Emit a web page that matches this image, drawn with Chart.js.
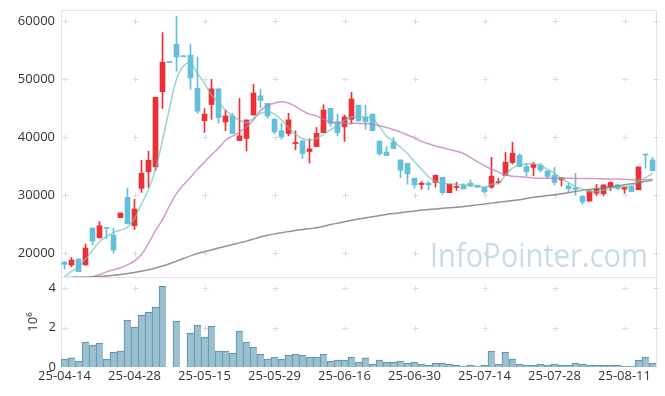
<!DOCTYPE html>
<html lang="ko">
<head>
<meta charset="UTF-8">
<title>InfoPointer chart</title>
<script src="https://cdn.jsdelivr.net/npm/chart.js@4.4.1/dist/chart.umd.min.js"></script>
<style>
  html, body { margin: 0; padding: 0; background: #fff; }
  #wrap { position: relative; width: 665px; height: 396px; overflow: hidden; }
  #price { position: absolute; left: 0; top: 0; }
  #volume { position: absolute; left: 0; top: 270px; }
</style>
</head>
<body>
<div id="wrap">
  <canvas id="price" width="665" height="280"></canvas>
  <canvas id="volume" width="665" height="126"></canvas>
</div>
<script>
// trading days
const dates = [
  "25-04-14","25-04-15","25-04-16","25-04-17","25-04-18","25-04-21","25-04-22","25-04-23","25-04-24","25-04-25",
  "25-04-28","25-04-29","25-04-30","25-05-02","25-05-07","25-05-08","25-05-09","25-05-12","25-05-13","25-05-14",
  "25-05-15","25-05-16","25-05-19","25-05-20","25-05-21","25-05-22","25-05-23","25-05-26","25-05-27","25-05-28",
  "25-05-29","25-05-30","25-06-02","25-06-04","25-06-05","25-06-09","25-06-10","25-06-11","25-06-12","25-06-13",
  "25-06-16","25-06-17","25-06-18","25-06-19","25-06-20","25-06-23","25-06-24","25-06-25","25-06-26","25-06-27",
  "25-06-30","25-07-01","25-07-02","25-07-03","25-07-04","25-07-07","25-07-08","25-07-09","25-07-10","25-07-11",
  "25-07-14","25-07-15","25-07-16","25-07-17","25-07-18","25-07-21","25-07-22","25-07-23","25-07-24","25-07-25",
  "25-07-28","25-07-29","25-07-30","25-07-31","25-08-01","25-08-04","25-08-05","25-08-06","25-08-07","25-08-08",
  "25-08-11","25-08-12","25-08-13","25-08-14","25-08-18"
];

const opens = [
  18500,17980,19000,18000,24350,22700,24350,23150,26150,29650,
  24750,31200,34050,34900,47850,52900,56050,53900,54150,48450,
  42850,45650,48350,42650,43700,39450,39800,43850,47150,45850,
  43150,41100,40650,38900,39400,37550,38400,40800,45000,42700,
  41850,43100,45550,43450,44000,39350,37450,39200,36100,35500,
  32950,31850,32100,32200,33100,30450,31350,31750,32100,31750,
  31400,31400,32200,33400,35650,36950,34950,34800,35200,34200,
  33450,32650,31600,31300,29800,29000,30350,30250,31400,31800,
  31050,31500,30950,37050,36100
];
const highs = [
  18550,19300,19100,21600,24400,25450,24350,24300,26950,31200,
  29300,36050,37600,46900,58050,52900,60900,53900,56000,53850,
  44950,50000,48400,44700,44150,46700,43000,49150,48300,45850,
  43150,42400,44150,41150,39400,39750,41700,45600,45000,44000,
  43850,47750,45550,45550,44000,39400,38400,40000,36100,35500,
  32950,32350,32350,33550,33100,31900,32250,32000,32650,31750,
  31400,36550,32950,37400,39150,37150,35500,35700,35500,34200,
  34800,33050,32100,33800,30000,30750,31900,31800,32350,31900,
  31350,31600,34900,37050,36550
];
const lows = [
  17250,17700,16800,17950,21400,22600,22550,20000,26150,25050,
  24100,30500,31350,34300,44950,52900,51400,53900,48300,44100,
  40850,43100,42400,41150,40600,39400,37650,43800,45100,43300,
  40600,39650,40250,37850,36350,35550,38400,40800,41850,40250,
  39300,42300,42700,41400,41100,36900,36800,38000,33050,31900,
  31200,31050,30950,31400,30200,30450,30850,31100,31500,31400,
  30350,31200,31950,33400,35400,34950,33350,33350,34050,32900,
  31800,31600,30600,30000,28500,29000,29950,29900,30800,30950,
  30350,30650,30950,34650,34250
];
const closes = [
  18100,18840,16850,20900,22100,24750,24300,20560,26950,25100,
  27650,33800,36050,46900,52950,52900,53850,53900,50250,44500,
  44000,48350,43400,43700,40650,40250,43000,47650,46350,43700,
  40950,40050,43000,39100,37200,38000,40700,44700,42400,40800,
  43500,46600,42850,42700,41150,37150,36850,38050,34350,33700,
  31800,32100,31800,33450,30450,31900,31450,31100,31600,31400,
  30600,33300,32350,35700,37250,34950,34050,35300,34350,33250,
  32200,33050,31150,31000,28850,30750,31050,31800,32200,31150,
  31350,30650,34900,36950,34250
];
// volume, in 10^6 shares
const volumes = [
  0.40,0.46,0.30,1.27,1.11,1.22,0.40,0.76,0.81,2.38,
  2.03,2.63,2.78,3.04,4.10,0,2.33,0,1.72,2.13,
  1.52,2.08,0.81,0.81,0.71,1.82,1.27,1.01,0.66,0.40,
  0.51,0.40,0.61,0.66,0.61,0.51,0.51,0.66,0.30,0.35,
  0.35,0.51,0.25,0.46,0.15,0.35,0.25,0.25,0.30,0.20,
  0.25,0.15,0.10,0.20,0.20,0.15,0.10,0.05,0.10,0.05,
  0.10,0.81,0.15,0.76,0.40,0.15,0.10,0.10,0.15,0.10,
  0.15,0.10,0.10,0.20,0.15,0.10,0.10,0.10,0.10,0.10,
  0.05,0.05,0.35,0.51,0.20
];
// moving averages as drawn
const ma5 = [
  15950,16900,17700,19000,20500,22000,22900,23600,24000,24500,
  26000,28500,31000,34500,39500,45000,50000,52300,52800,51000,
  49300,47300,46000,44700,43700,43000,42500,43300,44100,44400,
  44000,43000,41600,40500,39800,39500,39800,40500,41300,42000,
  42900,43500,43600,43500,43300,41800,40200,39300,38300,37200,
  35800,34500,33200,32400,32100,32000,31900,31800,31700,31600,
  31400,31900,32100,33500,34700,35200,35400,35500,35100,34500,
  33800,32900,32200,31500,31050,30650,30650,30900,31200,31400,
  31500,31600,32400,33000,33800
];
const ma20 = [
  15300,15450,15600,15750,15950,16300,16800,17150,17500,18000,
  18700,19800,21700,23900,25800,28200,30300,31800,33100,34500,
  35700,37000,38100,39500,40200,40900,41800,43000,44600,45500,
  45900,46150,45900,45300,44600,44000,43700,43100,42600,42500,
  42400,42400,42400,42350,42300,42000,41700,41300,40900,40400,
  39900,39300,38900,38500,38200,37900,37600,37200,36500,35800,
  35100,34500,34000,33500,33300,33200,33100,33000,32950,32950,
  32950,32950,32950,32900,32900,32900,32850,32850,32800,32800,
  32750,32700,32650,32700,32750
];
const ma60 = [
  15800,15830,15860,15900,15950,16000,16100,16200,16330,16500,
  16700,16900,17150,17450,17800,18200,18650,19100,19550,19950,
  20300,20600,20900,21200,21500,21800,22100,22450,22800,23100,
  23350,23550,23750,23950,24100,24250,24400,24650,24950,25200,
  25450,25700,25900,26100,26300,26500,26700,26850,27000,27150,
  27300,27450,27550,27650,27750,27850,27950,28050,28200,28350,
  28500,28650,28800,28950,29100,29250,29450,29650,29800,29950,
  30100,30250,30450,30650,30850,31000,31150,31300,31450,31600,
  31800,32000,32200,32400,32600
];
const priceTicks = [20000, 30000, 40000, 50000, 60000];
const volumeTicks = [0, 2, 4];

const upColor = '#ec3036';
const downColor = '#64c0da';
const candleColors = opens.map((o, i) => closes[i] > o ? upColor : downColor);

Chart.defaults.font.family = "'Open Sans', 'DejaVu Sans', sans-serif";
Chart.defaults.font.size = 13;
Chart.defaults.color = '#333';
Chart.defaults.animation = false;

// fixed axis boxes so both panels line up
function fixY(s) { s.width = 61; s.paddingTop = 0; s.paddingBottom = 0; }
function fixX(s) { s.height = 26; s.paddingLeft = 0; s.paddingRight = 0; }

// light frame + "+" marks where grid lines would cross
const frame = {
  id: 'frame',
  beforeDatasetsDraw(chart, args, opts) {
    const {ctx, chartArea: a, scales: {x, y}} = chart;
    ctx.save();
    ctx.strokeStyle = '#e3e3e3';
    ctx.lineWidth = 1;
    ctx.beginPath();
    ctx.moveTo(a.left + 0.5, a.bottom + 0.5);
    ctx.lineTo(a.left + 0.5, a.top + 0.5);
    ctx.lineTo(a.right + 0.5, a.top + 0.5);
    ctx.lineTo(a.right + 0.5, a.bottom + 0.5);
    if (opts.bottom) ctx.lineTo(a.left + 0.5, a.bottom + 0.5);
    ctx.stroke();

    const xs = [];
    dates.forEach((d, i) => { if (i % 10 === 0) xs.push(x.getPixelForValue(i)); });
    xs.push(a.right);
    ctx.strokeStyle = '#dcdcdc';
    opts.values.forEach(v => {
      const py = Math.round(y.getPixelForValue(v)) + 0.5;
      if (py < a.top + 2 || py > a.bottom - 2) return;
      xs.forEach(px => {
        px = Math.round(px) + 0.5;
        ctx.beginPath();
        ctx.moveTo(px - 3, py); ctx.lineTo(px + 3, py);
        ctx.moveTo(px, py - 3); ctx.lineTo(px, py + 3);
        ctx.stroke();
      });
    });

    if (opts.mark) {
      ctx.font = "32px 'Open Sans', sans-serif";
      ctx.fillStyle = '#c8dbe6';
      ctx.textBaseline = 'alphabetic';
      ctx.fillText(opts.mark, 430, 267, 218);
    }
    ctx.restore();
  }
};

new Chart(document.getElementById('price'), {
  type: 'bar',
  data: {
    labels: dates,
    datasets: [
      { type: 'line', label: 'MA5', data: ma5, borderColor: 'rgba(110,196,180,0.7)', borderWidth: 1.5,
        pointRadius: 0, tension: 0.35, order: 1 },
      { type: 'line', label: 'MA20', data: ma20, borderColor: 'rgba(196,120,186,0.75)', borderWidth: 1.5,
        pointRadius: 0, tension: 0.35, order: 2 },
      { type: 'line', label: 'MA60', data: ma60, borderColor: 'rgba(120,120,120,0.8)', borderWidth: 1.5,
        pointRadius: 0, tension: 0.35, order: 3 },
      { label: 'wick', data: lows.map((l, i) => [l, highs[i]]), backgroundColor: candleColors,
        barThickness: 1, minBarLength: 1, grouped: false, order: 5 },
      { label: 'body', data: opens.map((o, i) => [o, closes[i]]), backgroundColor: candleColors,
        barThickness: 5, minBarLength: 1, grouped: false, order: 4 }
    ]
  },
  options: {
    responsive: false,
    layout: { padding: { top: 10, right: 9, bottom: 3, left: 0 } },
    plugins: {
      legend: { display: false },
      tooltip: { enabled: false },
      frame: { values: priceTicks, bottom: true, mark: 'InfoPointer.com' }
    },
    scales: {
      x: { display: false, offset: true },
      y: {
        min: 15914, max: 61948,
        afterBuildTicks: s => { s.ticks = priceTicks.map(v => ({ value: v })); },
        afterFit: fixY,
        grid: { display: false, drawTicks: false },
        border: { display: false },
        ticks: { padding: 6, callback: v => String(v) }
      }
    }
  },
  plugins: [frame]
});

new Chart(document.getElementById('volume'), {
  type: 'bar',
  data: {
    labels: dates,
    datasets: [
      { label: 'volume', data: volumes, backgroundColor: 'rgba(150,190,207,0.95)', borderColor: '#5b8fa8',
        borderWidth: { left: 1, top: 1, right: 0, bottom: 0 }, borderSkipped: false, barThickness: 7 }
    ]
  },
  options: {
    responsive: false,
    layout: { padding: { top: 7, right: 9, bottom: 3, left: 0 } },
    plugins: {
      legend: { display: false },
      tooltip: { enabled: false },
      frame: { values: volumeTicks, bottom: false }
    },
    scales: {
      x: {
        offset: true,
        grid: { display: false, drawTicks: false },
        border: { display: false },
        afterFit: fixX,
        ticks: { autoSkip: false, maxRotation: 0, padding: 1,
                 callback: (v, i) => i % 10 === 0 ? dates[i] : null }
      },
      y: {
        min: 0, max: 4.57,
        afterBuildTicks: s => { s.ticks = volumeTicks.map(v => ({ value: v })); },
        afterFit: fixY,
        grid: { display: false, drawTicks: false },
        border: { display: false },
        ticks: { padding: 5, callback: v => String(v) },
        title: { display: true, text: '10⁶', padding: { top: 25, bottom: 0 } }
      }
    }
  },
  plugins: [frame]
});
</script>
</body>
</html>
